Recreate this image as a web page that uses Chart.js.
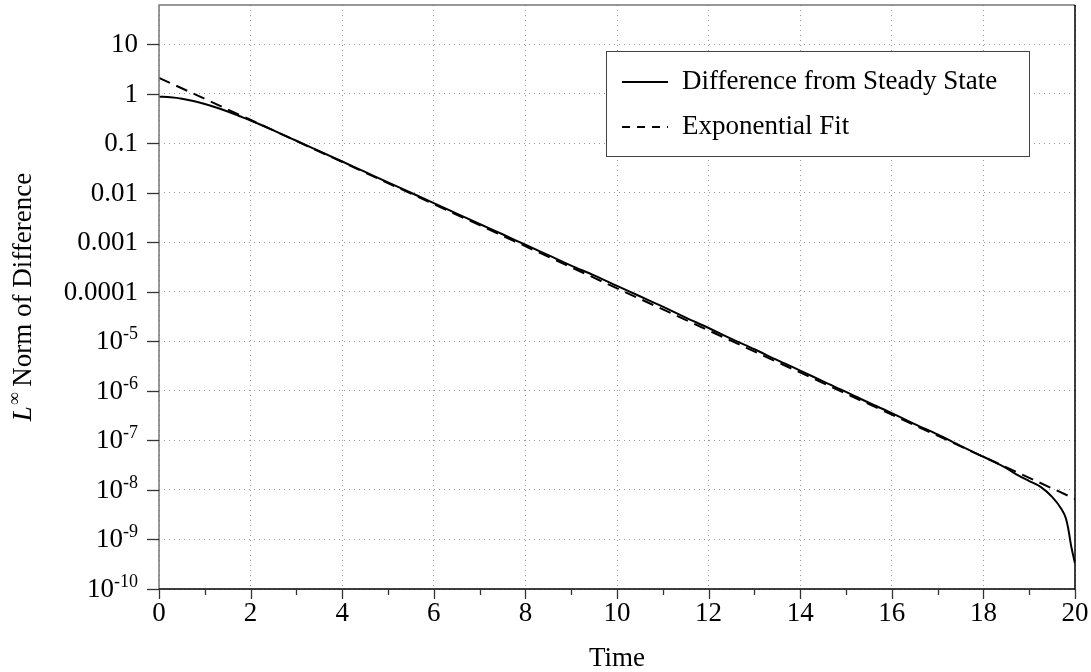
<!DOCTYPE html>
<html>
<head>
<meta charset="utf-8">
<script src="https://cdn.jsdelivr.net/npm/chart.js@4.4.1/dist/chart.umd.min.js"></script>
<style>
  html, body { margin: 0; padding: 0; background: #fff; }
  canvas { display: block; }
</style>
</head>
<body>
<canvas id="myChart" width="1091" height="672"></canvas>
<script>
  // data
  var times = [0, 0.25, 0.5, 0.75, 1, 1.25, 1.5, 1.75, 2, 2.5, 3, 3.5, 4, 4.5, 5, 5.5, 6, 6.5, 7, 7.5, 8, 8.5, 9, 9.5,
    10, 10.5, 11, 11.5, 12, 12.5, 13, 13.5, 14, 14.5, 15, 15.5, 16, 16.5, 17, 17.5, 18, 18.5,
    18.75, 19, 19.25, 19.5, 19.7, 19.8, 19.85, 19.92, 20];
  var diffValues = [0.871, 0.847, 0.794, 0.711, 0.617, 0.525, 0.437, 0.355, 0.288, 0.182, 0.112, 0.0692, 0.0427, 0.0263,
    0.0162, 0.0100, 0.00617, 0.00380, 0.00234, 0.00145, 8.91e-4, 5.50e-4, 3.39e-4, 2.14e-4,
    1.32e-4, 8.13e-5, 5.01e-5, 3.02e-5, 1.86e-5, 1.12e-5, 6.92e-6, 4.17e-6, 2.57e-6, 1.55e-6,
    9.55e-7, 5.75e-7, 3.55e-7, 2.14e-7, 1.32e-7, 7.76e-8, 4.68e-8, 2.75e-8,
    2.0e-8, 1.51e-8, 1.15e-8, 7.24e-9, 4.17e-9, 2.69e-9, 1.70e-9, 7.08e-10, 3.31e-10];
  var fitTimes = [0, 20];
  var fitValues = [2.09, 6.6e-9];
  var yTicks = [1e-10, 1e-9, 1e-8, 1e-7, 1e-6, 1e-5, 1e-4, 1e-3, 1e-2, 1e-1, 1, 10];
  var xTicks = [0, 2, 4, 6, 8, 10, 12, 14, 16, 18, 20];
  var xMinor = [1, 3, 5, 7, 9, 11, 13, 15, 17, 19];
  var seriesLabels = ["Difference from Steady State", "Exponential Fit"];

  var FONT = '"Liberation Serif", "Times New Roman", serif';

  function pts(xs, ys) {
    return xs.map(function (x, i) { return { x: x, y: ys[i] }; });
  }

  // axes labels, ticks, frame and legend
  var decor = {
    id: 'decor',
    afterDraw: function (chart) {
      var c = chart.ctx, a = chart.chartArea;
      var xs = chart.scales.x, ys = chart.scales.y;
      c.save();

      // frame
      c.lineWidth = 1.5;
      c.strokeStyle = '#777';
      c.beginPath();
      c.moveTo(a.left, a.bottom); c.lineTo(a.left, a.top); c.lineTo(a.right, a.top);
      c.stroke();
      c.strokeStyle = '#000';
      c.beginPath();
      c.moveTo(a.left, a.bottom); c.lineTo(a.right, a.bottom); c.lineTo(a.right, a.top);
      c.stroke();

      // x tick marks + labels
      c.strokeStyle = '#333';
      c.lineWidth = 1.3;
      xTicks.forEach(function (v) {
        var px = Math.round(xs.getPixelForValue(v)) + 0.5;
        c.beginPath(); c.moveTo(px, a.bottom); c.lineTo(px, a.bottom + 10); c.stroke();
      });
      xMinor.forEach(function (v) {
        var px = Math.round(xs.getPixelForValue(v)) + 0.5;
        c.beginPath(); c.moveTo(px, a.bottom); c.lineTo(px, a.bottom + 6); c.stroke();
      });
      c.fillStyle = '#000';
      c.font = '27px ' + FONT;
      c.textAlign = 'center';
      c.textBaseline = 'middle';
      xTicks.forEach(function (v) {
        c.fillText(String(v), xs.getPixelForValue(v), 614);
      });
      c.fillText('Time', (a.left + a.right) / 2, 659);

      // y tick marks + labels
      yTicks.forEach(function (v) {
        var py = Math.round(ys.getPixelForValue(v)) + 0.5;
        c.beginPath(); c.moveTo(a.left - 12, py); c.lineTo(a.left, py); c.stroke();
        var e = Math.round(Math.log10(v));
        var rightX = a.left - 21;
        c.textAlign = 'right';
        c.textBaseline = 'middle';
        if (e >= -4) {
          var s = e >= 0 ? String(Math.pow(10, e)) : '0.' + '0'.repeat(-e - 1) + '1';
          c.font = '27px ' + FONT;
          c.fillText(s, rightX, py);
        } else {
          c.font = '18px ' + FONT;
          var sup = String(e);
          var w = c.measureText(sup).width;
          c.textAlign = 'left';
          c.fillText(sup, rightX - w, py - 7);
          c.textAlign = 'right';
          c.font = '27px ' + FONT;
          c.fillText('10', rightX - w, py);
        }
      });

      // y title
      c.save();
      c.translate(31, (a.top + a.bottom) / 2);
      c.rotate(-Math.PI / 2);
      c.textAlign = 'left';
      c.textBaseline = 'alphabetic';
      c.font = 'italic 27px ' + FONT;
      var wL = c.measureText('L').width;
      c.font = '18px ' + FONT;
      var wInf = c.measureText('\u221e').width;
      c.font = '27px ' + FONT;
      var rest = ' Norm of Difference';
      var wRest = c.measureText(rest).width;
      var x0 = -(wL + wInf + wRest) / 2;
      c.font = 'italic 27px ' + FONT;
      c.fillText('L', x0, 0);
      c.font = '18px ' + FONT;
      c.fillText('\u221e', x0 + wL + 1, -11);
      c.font = '27px ' + FONT;
      c.fillText(rest, x0 + wL + wInf, 0);
      c.restore();

      // legend
      var bx = 606.5, by = 51.5, bw = 423, bh = 105;
      c.fillStyle = '#fff';
      c.fillRect(bx, by, bw, bh);
      c.strokeStyle = '#444';
      c.lineWidth = 1;
      c.strokeRect(bx, by, bw, bh);
      var rows = [82, 127];
      chart.data.datasets.forEach(function (ds, i) {
        c.strokeStyle = '#000';
        c.lineWidth = 2;
        c.setLineDash(i === 1 ? [8, 7] : []);
        c.beginPath(); c.moveTo(622, rows[i]); c.lineTo(668, rows[i]); c.stroke();
        c.setLineDash([]);
        c.fillStyle = '#000';
        c.font = '27px ' + FONT;
        c.textAlign = 'left';
        c.textBaseline = 'middle';
        c.fillText(ds.label, 682, rows[i]);
      });

      c.restore();
    }
  };

  var ctx = document.getElementById("myChart").getContext('2d');
  var myChart = new Chart(ctx, {
    type: 'line',
    data: {
      datasets: [{
        label: seriesLabels[0],
        data: pts(times, diffValues),
        borderColor: '#000',
        borderWidth: 2,
        pointRadius: 0,
        cubicInterpolationMode: 'monotone',
        fill: false
      }, {
        label: seriesLabels[1],
        data: pts(fitTimes, fitValues),
        borderColor: '#000',
        borderWidth: 2,
        borderDash: [12, 7],
        pointRadius: 0,
        fill: false
      }]
    },
    options: {
      responsive: false,
      animation: false,
      devicePixelRatio: 1,
      layout: { padding: { left: 0, right: 16, top: 5, bottom: 0 } },
      plugins: { legend: { display: false }, tooltip: { enabled: false } },
      scales: {
        x: {
          type: 'linear',
          min: 0, max: 20,
          ticks: { display: false, stepSize: 2 },
          afterBuildTicks: function (s) { s.ticks = xTicks.map(function (v) { return { value: v }; }); },
          afterFit: function (s) { s.height = 83; },
          grid: { color: '#999', lineWidth: 1, drawTicks: false },
          border: { display: false, dash: [1, 4] }
        },
        y: {
          type: 'logarithmic',
          min: 1e-10, max: 61.7,
          ticks: { display: false },
          afterBuildTicks: function (s) { s.ticks = yTicks.map(function (v) { return { value: v }; }); },
          afterFit: function (s) { s.width = 159; },
          grid: { color: '#999', lineWidth: 1, drawTicks: false },
          border: { display: false, dash: [1, 4] }
        }
      }
    },
    plugins: [decor]
  });
</script>
</body>
</html>
